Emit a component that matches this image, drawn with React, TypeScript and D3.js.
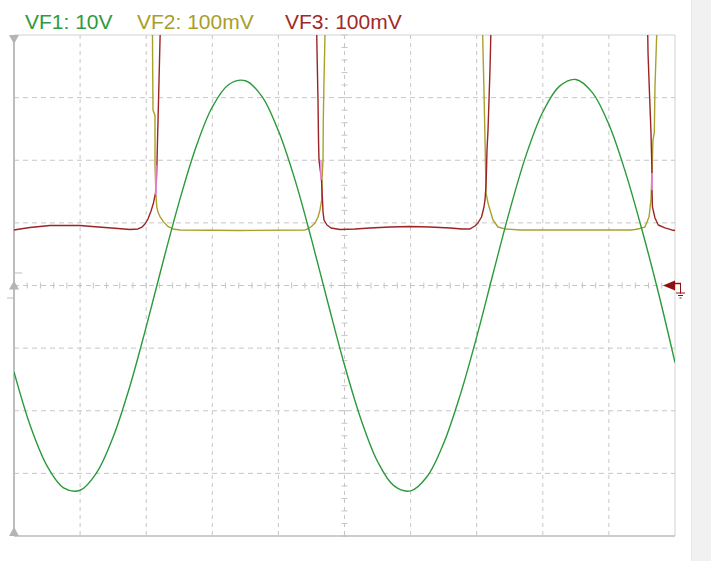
import React from "react";
import * as d3 from "d3";

// ---- data (time in divisions, 0..10) ----
const legendLabels = ["VF1: 10V", "VF2: 100mV", "VF3: 100mV"];
const legendColors = ["#2f9a3c", "#a89e2a", "#a02a2a"];

// VF1 (volts), sampled every 0.25 div
const vf1Step = 0.25;
const vf1Values = [
  -13.8, -22.5, -28.8, -32.3, -32.7, -29.9, -24.2, -16.2, -6.6, 3.6,
  13.4, 22.0, 28.5, 32.1, 32.7, 30.2, 24.7, 16.9, 7.4, -2.8,
  -12.7, -21.4, -28.1, -32.0, -32.8, -30.5, -25.2, -17.5, -8.2, 2.0,
  12.0, 20.9, 27.7, 31.8, 32.9, 30.8, 25.7, 18.1, 8.9, -1.2, -12.3,
];

// VF2 (mV): [time, mV]
const vf2Points: [number, number][] = [
  [0, 424], [2.088, 424], [2.095, 400], [2.098, 344], [2.103, 280], [2.133, 272],
  [2.133, 192], [2.148, 145], [2.159, 126], [2.179, 117], [2.209, 110], [2.259, 102],
  [2.334, 94], [2.405, 90.3], [2.511, 88.7], [3.419, 87.9], [4.402, 88.7], [4.447, 90.3],
  [4.508, 95], [4.554, 99.8], [4.599, 109.4], [4.629, 120.6], [4.655, 136.6], [4.659, 168.5],
  [4.675, 200.5], [4.679, 264], [4.69, 328], [4.705, 400], [4.708, 424], [7.088, 424],
  [7.091, 400], [7.095, 376], [7.11, 312], [7.126, 232], [7.141, 148], [7.171, 132],
  [7.201, 120.6], [7.247, 104.6], [7.322, 93.4], [7.428, 90.3], [7.655, 88.7], [8.865, 88.7],
  [9.319, 88.7], [9.395, 89.5], [9.47, 91.1], [9.546, 93.4], [9.607, 109.4], [9.637, 136.6],
  [9.652, 184.5], [9.667, 232], [9.687, 244], [9.697, 317], [9.723, 400], [9.728, 424], [10, 424],
];

// VF3 (mV): [time, mV]
const vf3Points: [number, number][] = [
  [0, 88.7], [0.091, 90.3], [0.242, 92.6], [0.393, 94.2], [0.545, 95.8], [0.772, 95.8],
  [0.998, 95.8], [1.18, 94.2], [1.377, 92.6], [1.573, 91.1], [1.755, 89.5], [1.876, 90.3],
  [1.936, 93.4], [1.982, 98.2], [2.027, 106.2], [2.073, 119], [2.11, 131.8], [2.141, 147.8],
  [2.156, 171.7], [2.163, 195.7], [2.171, 232], [2.179, 264], [2.194, 328], [2.209, 392],
  [2.216, 424], [4.576, 424], [4.584, 376], [4.599, 296], [4.607, 232], [4.614, 200.5],
  [4.652, 168.5], [4.667, 136.6], [4.675, 117.4], [4.69, 104.6], [4.735, 96.6], [4.796, 91.9],
  [4.932, 89.5], [5.159, 90.3], [5.386, 91.9], [5.688, 93.4], [5.991, 94.2], [6.293, 93.4],
  [6.596, 91.9], [6.778, 90.3], [6.899, 90.3], [6.974, 95], [7.019, 99.8], [7.073, 109.4],
  [7.11, 125.4], [7.126, 136.6], [7.141, 160.5], [7.148, 184.5], [7.156, 216.5], [7.171, 248],
  [7.186, 296], [7.201, 344], [7.212, 392], [7.216, 424], [9.584, 424], [9.592, 371],
  [9.614, 307.5], [9.637, 243.6], [9.652, 179.7], [9.652, 152.6], [9.659, 125.4], [9.697, 107.8],
  [9.747, 96.6], [9.849, 91.9], [9.95, 88.7], [10, 87.9],
];

// overlap highlight segments: [time, mV from, mV to]
const overlapSegments: [number, number, number][] = [
  [2.148, 192.5, 144.6],
  [4.644, 200.5, 168.5],
  [9.652, 179.7, 152.6],
];

const W = 711;
const H = 561;
const L = 14, R = 675, T = 35, B = 536;

export default function App() {
  const x = d3.scaleLinear().domain([0, 10]).range([L, R]);
  const yDiv = d3.scaleLinear().domain([-4, 4]).range([B, T]);
  const yV = d3.scaleLinear().domain([-40, 40]).range([B, T]);
  const yMv = d3.scaleLinear().domain([-400, 400]).range([B, T]);

  const vf1Line = d3
    .line<number>()
    .x((_, i) => x(i * vf1Step))
    .y((d) => yV(d))
    .curve(d3.curveCatmullRom.alpha(0.5))(vf1Values) as string;

  const mvLine = d3
    .line<[number, number]>()
    .x((d) => x(d[0]))
    .y((d) => yMv(d[1]));

  const xGrid = d3.range(1, 10);
  const yGrid = d3.range(-3, 4);
  const minorX = d3.range(0, 10.001, 0.2);
  const minorY = d3.range(-4, 4.001, 0.2);
  const gridColor = "#c6c6c6";

  const gy = yDiv(0);
  const rx = R;

  return (
    <svg
      width={W}
      height={H}
      style={{ position: "absolute", left: 0, top: 0, background: "#fff" }}
      fontFamily="'Liberation Sans', Arial, sans-serif"
    >
      <rect x={0} y={0} width={W} height={H} fill="#fff" />
      <rect x={692} y={0} width={19} height={H} fill="#f1f1f1" />
      <line x1={691.5} x2={691.5} y1={0} y2={H} stroke="#e6e6e6" />

      {/* legend */}
      {legendLabels.map((t, i) => (
        <text
          key={t}
          x={[25, 137, 285][i]}
          y={29}
          fontSize={21}
          fill={legendColors[i]}
        >
          {t}
        </text>
      ))}

      {/* grid */}
      {xGrid.map((d) => (
        <line key={"gx" + d} x1={x(d)} x2={x(d)} y1={T} y2={B} stroke={gridColor} strokeDasharray="4,4" />
      ))}
      {yGrid.map((d) => (
        <line key={"gy" + d} x1={L} x2={R} y1={yDiv(d)} y2={yDiv(d)} stroke={gridColor} strokeDasharray="5,4" />
      ))}
      {/* center minor ticks */}
      {minorX.map((d) => (
        <line key={"mx" + d} x1={x(d)} x2={x(d)} y1={gy - 3} y2={gy + 3} stroke={gridColor} />
      ))}
      {minorY.map((d) => (
        <line key={"my" + d} x1={x(5) - 3} x2={x(5) + 3} y1={yDiv(d)} y2={yDiv(d)} stroke={gridColor} />
      ))}

      {/* frame */}
      <line x1={L} x2={R} y1={T} y2={T} stroke="#d2d2d2" />
      <line x1={R} x2={R} y1={T} y2={B} stroke="#d2d2d2" />
      <line x1={L} x2={R} y1={B} y2={B} stroke="#bdbdbd" strokeWidth={1.5} />
      <line x1={L} x2={L} y1={T} y2={B} stroke="#bdbdbd" strokeWidth={2} />
      <line x1={L} x2={L + 8} y1={yDiv(0.2)} y2={yDiv(0.2)} stroke="#bdbdbd" />
      <line x1={L - 7} x2={L} y1={yDiv(-0.2)} y2={yDiv(-0.2)} stroke="#bdbdbd" />

      {/* markers */}
      <path d={`M${L - 5},${T} L${L + 5},${T} L${L},${T + 9} Z`} fill="#b4b4b4" />
      <path d={`M${L - 5},${gy + 4} L${L + 5},${gy + 4} L${L},${gy - 5} Z`} fill="#b4b4b4" />
      <path d={`M${L - 5},${B} L${L + 5},${B} L${L},${B - 9} Z`} fill="#b4b4b4" />

      <defs>
        <clipPath id="plotClip">
          <rect x={L} y={T} width={R - L} height={B - T} />
        </clipPath>
      </defs>

      <g clipPath="url(#plotClip)" fill="none" strokeWidth={1.4} strokeLinejoin="round">
        <path d={mvLine(vf2Points) as string} stroke="#aaa12c" />
        <path d={mvLine(vf3Points) as string} stroke="#9c2424" />
        {overlapSegments.map((s, i) => (
          <line key={"ov" + i} x1={x(s[0])} x2={x(s[0])} y1={yMv(s[1])} y2={yMv(s[2])} stroke="#f08cf0" strokeWidth={1.6} />
        ))}
        <path d={vf1Line} stroke="#2a9a3a" />
      </g>

      {/* ground reference marker for VF3 */}
      <g fill="#8e1010" stroke="#8e1010">
        <path d={`M${rx - 12},${gy} L${rx},${gy - 5} L${rx},${gy + 5} Z`} stroke="none" />
        <line x1={rx} x2={rx + 6} y1={gy - 2} y2={gy - 2} strokeWidth={1.5} />
        <line x1={rx + 5.5} x2={rx + 5.5} y1={gy - 2} y2={gy + 8} strokeWidth={1} />
        <line x1={rx + 1} x2={rx + 10} y1={gy + 7.5} y2={gy + 7.5} strokeWidth={1} />
        <line x1={rx + 3} x2={rx + 8} y1={gy + 10} y2={gy + 10} strokeWidth={1} />
        <line x1={rx + 4.5} x2={rx + 6.5} y1={gy + 12.5} y2={gy + 12.5} strokeWidth={1} />
      </g>
    </svg>
  );
}
